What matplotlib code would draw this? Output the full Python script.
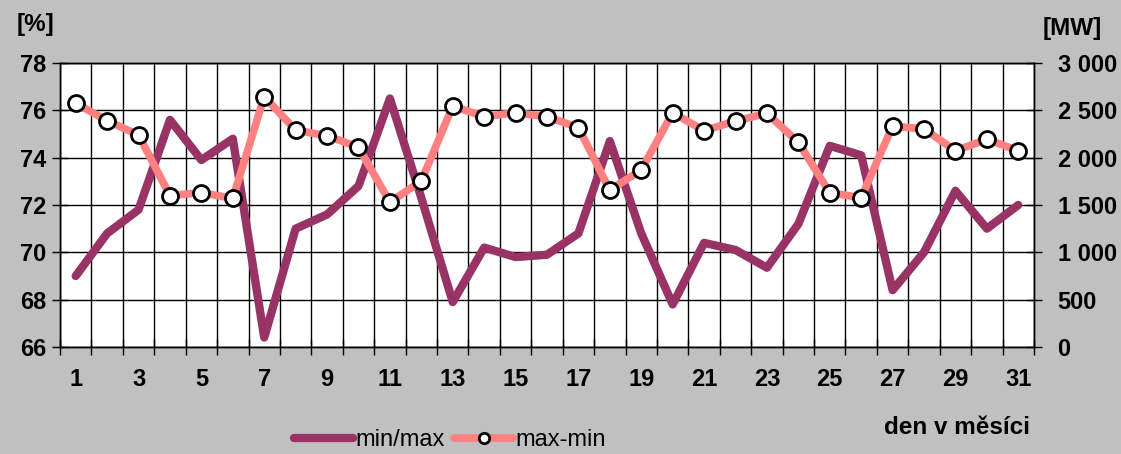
import matplotlib
matplotlib.use("Agg")
import matplotlib.pyplot as plt
import numpy as np

days = list(range(1, 32))
min_max = [69.0, 70.8, 71.8, 75.6, 73.9, 74.8, 66.4, 71.0, 71.6, 72.8,
           76.5, 72.3, 67.9, 70.2, 69.8, 69.9, 70.8, 74.7, 70.8, 67.8,
           70.4, 70.1, 69.35, 71.2, 74.5, 74.1, 68.4, 70.0, 72.6, 71.0, 72.0]
max_min = [2575, 2390, 2240, 1600, 1630, 1570, 2645, 2290, 2232, 2110,
           1530, 1753, 2546, 2433, 2475, 2433, 2317, 1658, 1870, 2475,
           2285, 2387, 2468, 2162, 1630, 1577, 2334, 2303, 2074, 2194, 2074]
xtick_labels = [str(d) for d in range(1, 32, 2)]
left_ticks = [66, 68, 70, 72, 74, 76, 78]
right_ticks = [0, 500, 1000, 1500, 2000, 2500, 3000]
right_labels = ["0", "500", "1 000", "1 500", "2 000", "2 500", "3 000"]

plt.rcParams['font.family'] = ['Liberation Sans', 'DejaVu Sans']

BG = "#C0C0C0"
PURPLE = "#993366"
PINK = "#FF8080"

fig = plt.figure(figsize=(11.21, 4.54), dpi=100, facecolor=BG)
ax = fig.add_axes([60/1121, 1-347/454, (1034-60)/1121, (347-63)/454])
ax.set_facecolor("white")

ax.plot(days, min_max, color=PURPLE, lw=6.0, solid_joinstyle='round',
        solid_capstyle='round', zorder=3, label="min/max")
ax.set_xlim(0.5, 31.5)
ax.set_ylim(66, 78)
ax.set_yticks(left_ticks)
ax.set_yticklabels([str(t) for t in left_ticks], fontsize=17, fontweight='bold')
ax.set_xticks(range(1, 32, 2))
ax.set_xticklabels(xtick_labels, fontsize=17, fontweight='bold')
ax.set_xticks(np.arange(0.5, 32, 1), minor=True)
ax.tick_params(axis='x', which='major', length=0, pad=15)
ax.tick_params(axis='x', which='minor', direction='inout', length=11, width=1)
ax.tick_params(axis='y', which='major', direction='inout', length=12, width=1, pad=4)
ax.grid(True, axis='y', which='major', color='black', lw=1)
ax.grid(True, axis='x', which='minor', color='black', lw=1)
for s in ax.spines.values():
    s.set_color('black')
    s.set_linewidth(1)

ax2 = ax.twinx()
ax2.plot(days, max_min, color=PINK, lw=5.5, marker='o', markersize=11.5,
         markerfacecolor='white', markeredgecolor='black', markeredgewidth=2,
         solid_joinstyle='round', solid_capstyle='round',
         zorder=4, label="max-min")
ax2.set_ylim(0, 3000)
ax2.set_yticks(right_ticks)
ax2.set_yticklabels(right_labels, fontsize=17, fontweight='bold')
ax2.tick_params(axis='y', which='major', direction='inout', length=12, width=1, pad=11)
for s in ax2.spines.values():
    s.set_color('black')
    s.set_linewidth(1)

fig.text(17/1121, 1-25/454, "[%]", fontsize=17.5, fontweight='bold', ha='left', va='center')
fig.text(1102/1121, 1-29/454, "[MW]", fontsize=17.5, fontweight='bold', ha='right', va='center')
fig.text(1030/1121, 1-427/454, "den v měsíci", fontsize=17.5, fontweight='bold', ha='right', va='center')

h1, l1 = ax.get_legend_handles_labels()
h2, l2 = ax2.get_legend_handles_labels()
leg = fig.legend(h1 + h2, l1 + l2, loc='center', bbox_to_anchor=(450/1121, 1-440/454),
                 ncol=2, frameon=False, fontsize=17, handlelength=2.5,
                 handletextpad=0.1, columnspacing=0.4, markerscale=0.65,
                 borderpad=0, borderaxespad=0)

fig.savefig("out.png", dpi=100, facecolor=BG)
